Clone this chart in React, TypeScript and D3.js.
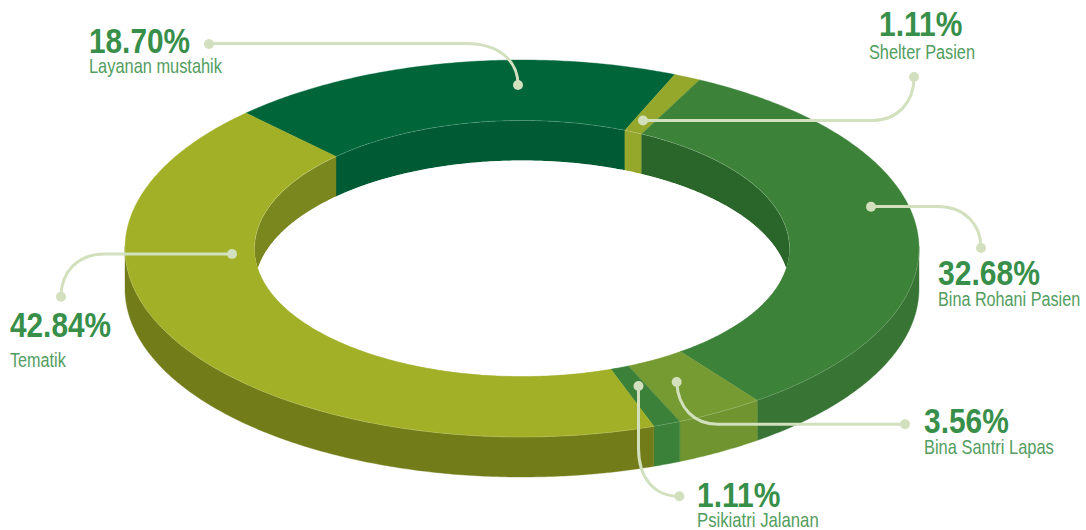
import React from "react";
import * as d3 from "d3";

const categories = ["Layanan mustahik", "Shelter Pasien", "Bina Rohani Pasien", "Bina Santri Lapas", "Psikiatri Jalanan", "Tematik"];
const values = [18.7, 1.11, 32.68, 3.56, 1.11, 42.84];
const percentLabels = ["18.70%", "1.11%", "32.68%", "3.56%", "1.11%", "42.84%"];
const topColors = ["#00663A", "#95A82C", "#3D8239", "#769B33", "#3B8139", "#A2B027"];
const outerWallColors = ["#005B34", "#8A9C28", "#387534", "#6F9430", "#3B8139", "#727C18"];
const innerWallColors = ["#005B34", "#95A82C", "#2A6529", "#6F9430", "#3B8139", "#7A861E"];

const CX = 522;
const CY = 248.5;
const RXO = 397;
const RYO = 188.5;
const RXI = 267.5;
const RYI = 128;
const DEPTH = 40;
const START = (-44.7 * Math.PI) / 180;
const FONT = "'Liberation Sans', Arial, sans-serif";
const LEADER = "#D2E0BE";
const deg = Math.PI / 180;

// slight foreshortening of the angle, as the drawing is a perspective view
const warp = (a: number) => a + 0.7 * deg * Math.sin(23 * deg - a);
const pt = (a: number, rx: number, ry: number, dz = 0): [number, number] => [
  CX + rx * Math.sin(warp(a)),
  CY - ry * Math.cos(warp(a)) + dz,
];
const samples = (a0: number, a1: number) => {
  const n = Math.max(2, Math.ceil(Math.abs(a1 - a0) / 0.01));
  return d3.range(n + 1).map((i) => a0 + ((a1 - a0) * i) / n);
};
const line = d3.line<[number, number]>().x((d) => d[0]).y((d) => d[1]);
const band = (a0: number, a1: number, top: (a: number) => [number, number], bot: (a: number) => [number, number]) =>
  line([...samples(a0, a1).map(top), ...samples(a1, a0).map(bot)]) + "Z";

const pie = d3.pie<number>().sort(null).startAngle(START).endAngle(START + 2 * Math.PI);
const arcs = pie(values);

// annotation layout: leader path, label anchor and horizontal condensing of the text
const leaders = [
  { d: "M209,43.5 H466 C498,43.5 518,60 518,85", dots: [[209, 44], [518, 85]] },
  { d: "M643,120.5 H872 C898,120.5 914,102 914,77", dots: [[914, 77], [643, 120.5]] },
  { d: "M871,206.5 H938 C964,206.5 981,224 981,248", dots: [[871, 206.7], [981, 248]] },
  { d: "M676.7,382 C678,408 694,424.3 718,424.3 H905", dots: [[676.7, 382], [905, 424.3]] },
  { d: "M638.5,386 V448 C638.5,478 654,496.3 679,496.3", dots: [[638.5, 386], [679.3, 496.3]] },
  { d: "M232,254 H104 C78,254 61,272 61,296.5", dots: [[232, 254], [61, 296.7]] },
];
const labelPos = [
  { px: 89, lx: 89, py: 53, ly: 73, ps: 0.851, ls: 0.82 },
  { px: 879, lx: 869, py: 36, ly: 59, ps: 0.857, ls: 0.815 },
  { px: 938, lx: 938, py: 285, ly: 306, ps: 0.86, ls: 0.81 },
  { px: 924, lx: 924, py: 433, ly: 454, ps: 0.855, ls: 0.823 },
  { px: 697, lx: 697, py: 507, ly: 527, ps: 0.857, ls: 0.836 },
  { px: 10, lx: 10, py: 337, ly: 367, ps: 0.851, ls: 0.81 },
];

export default function App() {
  const innerEllipse = line(samples(0, 2 * Math.PI).map((a) => pt(a, RXI, RYI))) + "Z";
  const lo = Math.PI / 2;
  const hi = (3 * Math.PI) / 2;
  return (
    <svg width={1086} height={530} style={{ position: "absolute", left: 0, top: 0, background: "#fff" }}>
      <defs>
        <clipPath id="hole">
          <path d={innerEllipse} />
        </clipPath>
      </defs>
      {arcs.map((s, i) => {
        const a0 = Math.max(s.startAngle, lo);
        const a1 = Math.min(s.endAngle, hi);
        if (a1 <= a0) return null;
        return (
          <path
            key={i}
            d={band(a0, a1, (a) => pt(a, RXO, RYO), (a) => pt(a, RXO, RYO, DEPTH))}
            fill={outerWallColors[i]}
            stroke={outerWallColors[i]}
            strokeWidth={0.4}
          />
        );
      })}
      <g clipPath="url(#hole)">
        {arcs.map((s, i) => (
          <path
            key={i}
            d={band(s.startAngle, s.endAngle, (a) => pt(a, RXI, RYI), (a) => pt(a, RXI, RYI, DEPTH))}
            fill={innerWallColors[i]}
            stroke={innerWallColors[i]}
            strokeWidth={0.4}
          />
        ))}
        <path d={line(samples(0, 2 * Math.PI).map((a) => pt(a, RXI, RYI, DEPTH))) + "Z"} fill="#fff" />
      </g>
      {arcs.map((s, i) => (
        <path
          key={i}
          d={band(s.startAngle, s.endAngle, (a) => pt(a, RXO, RYO), (a) => pt(a, RXI, RYI))}
          fill={topColors[i]}
          stroke={topColors[i]}
          strokeWidth={0.4}
        />
      ))}
      <path
        d={line(samples(lo, hi).map((a) => pt(a, RXO, RYO))) || ""}
        fill="none"
        stroke="#fff"
        strokeOpacity={0.25}
        strokeWidth={0.6}
      />
      <path
        d={line(samples(-lo, lo).map((a) => pt(a, RXI, RYI))) || ""}
        fill="none"
        stroke="#fff"
        strokeOpacity={0.25}
        strokeWidth={0.6}
      />
      {leaders.map((l, i) => (
        <g key={i}>
          <path d={l.d} fill="none" stroke={LEADER} strokeWidth={3} />
          {l.dots.map((p, j) => (
            <circle key={j} cx={p[0]} cy={p[1]} r={5} fill={LEADER} />
          ))}
        </g>
      ))}
      {categories.map((c, i) => (
        <g key={c} fontFamily={FONT}>
          <text
            transform={`translate(${labelPos[i].px},${labelPos[i].py}) scale(${labelPos[i].ps},1)`}
            fontSize={35}
            fontWeight={700}
            fill="#378F49"
          >
            {percentLabels[i]}
          </text>
          <text
            transform={`translate(${labelPos[i].lx},${labelPos[i].ly}) scale(${labelPos[i].ls},1)`}
            fontSize={20}
            fill="#529D60"
          >
            {c}
          </text>
        </g>
      ))}
    </svg>
  );
}
